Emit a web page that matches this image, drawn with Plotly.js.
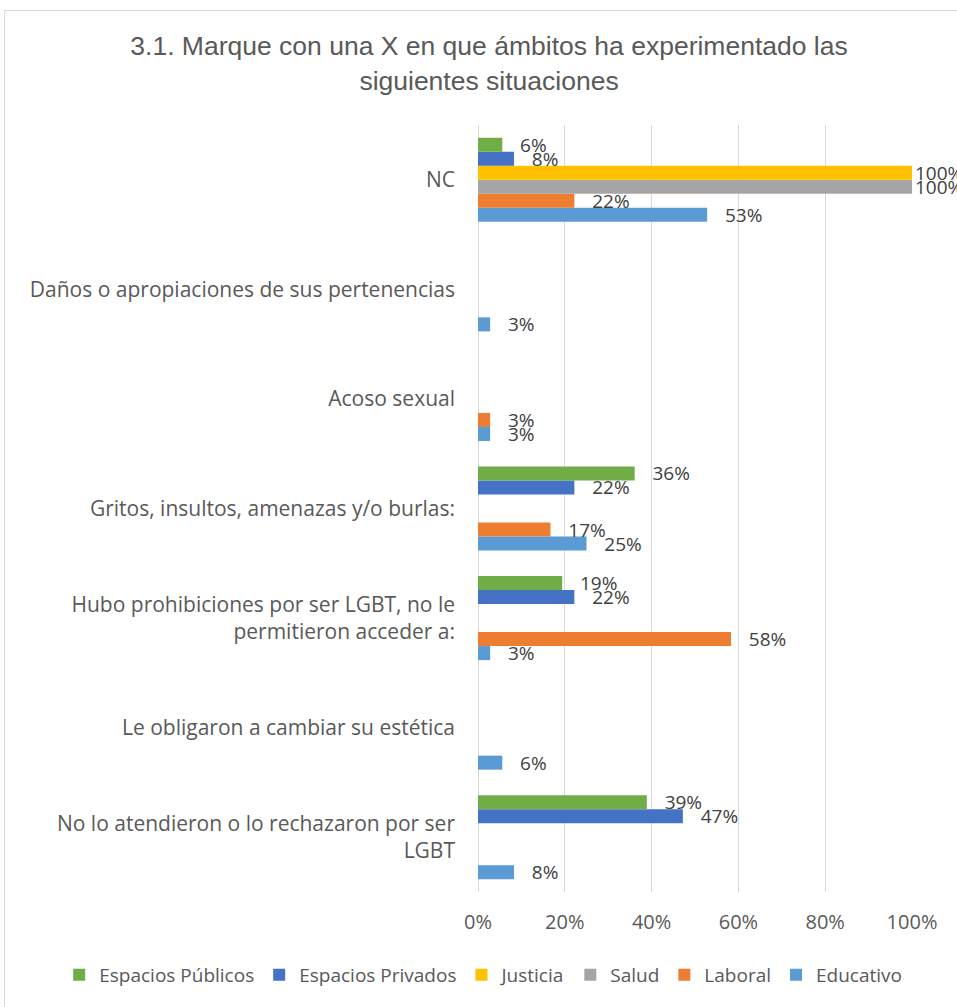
<!DOCTYPE html>
<html>
<head>
<meta charset="utf-8">
<script src="https://cdn.plot.ly/plotly-3.0.1.min.js"></script>
<style>
  html, body { margin: 0; padding: 0; background: #ffffff; }
  #frame { position: absolute; left: 4px; top: 10px; width: 1000px; height: 1050px; border: 1px solid #d9d9d9; box-sizing: border-box; }
  #chart { position: absolute; left: 0; top: 0; width: 957px; height: 1007px; }
</style>
</head>
<body>
<div id="frame"></div>
<div id="chart"></div>
<script>
// Categories listed bottom -> top (as in the source chart)
const categories = [
  "No lo atendieron o lo rechazaron por ser<br>LGBT",
  "Le obligaron a cambiar su estética",
  "Hubo prohibiciones por ser LGBT, no le<br>permitieron acceder a:",
  "Gritos, insultos, amenazas y/o burlas:",
  "Acoso sexual",
  "Daños o apropiaciones de sus pertenencias",
  "NC"
];

const educativo         = [0.083, 0.056, 0.028, 0.25, 0.028, 0.028, 0.528];
const laboral           = [null, null, 0.583, 0.167, 0.028, null, 0.222];
const salud             = [null, null, null, null, null, null, 1.0];
const justicia          = [null, null, null, null, null, null, 1.0];
const espaciosPrivados  = [0.472, null, 0.222, 0.222, null, null, 0.083];
const espaciosPublicos  = [0.389, null, 0.194, 0.361, null, null, 0.056];

const seriesNames  = ["Educativo", "Laboral", "Salud", "Justicia", "Espacios Privados", "Espacios Públicos"];
const seriesValues = [educativo, laboral, salud, justicia, espaciosPrivados, espaciosPublicos];
const seriesColors = ["#5B9BD5", "#ED7D31", "#A5A5A5", "#FFC000", "#4472C4", "#70AD47"];

const pad = "\u00a0\u00a0\u00a0";
function labels(vals) {
  return vals.map(v => v == null ? "" : (v >= 1 ? "" : pad) + Math.round(v * 100) + "%");
}

const labelFont = "Open Sans, Noto Sans, sans-serif";

const traces = seriesNames.map((name, i) => ({
  type: "bar",
  orientation: "h",
  name: name,
  y: categories,
  x: seriesValues[i],
  marker: { color: seriesColors[i] },
  text: labels(seriesValues[i]),
  textposition: "outside",
  constraintext: "none",
  textfont: { family: labelFont, size: 19, color: "#404040" },
  cliponaxis: false,
  hoverinfo: "skip"
}));

const layout = {
  width: 957,
  height: 1007,
  paper_bgcolor: "rgba(0,0,0,0)",
  plot_bgcolor: "rgba(0,0,0,0)",
  barmode: "group",
  bargap: 0.233,
  bargroupgap: 0,
  margin: { l: 478, r: 45, t: 125, b: 115 },
  title: {
    text: "3.1. Marque con una X en que ámbitos ha experimentado las<br>siguientes situaciones",
    font: { family: "Liberation Sans, Arial, sans-serif", size: 26.5, color: "#595959" },
    x: 0.511, xanchor: "center",
    y: 0.945, yanchor: "middle",
    xref: "container", yref: "container"
  },
  xaxis: {
    range: [0, 1],
    dtick: 0.2,
    tickformat: ".0%",
    showgrid: true,
    gridcolor: "#d9d9d9",
    gridwidth: 1,
    zeroline: true,
    zerolinecolor: "#d9d9d9",
    zerolinewidth: 1,
    showline: false,
    ticks: "",
    ticklabelstandoff: 16,
    tickfont: { family: labelFont, size: 20, color: "#595959" },
    fixedrange: true
  },
  yaxis: {
    type: "category",
    showgrid: false,
    zeroline: false,
    showline: false,
    ticks: "",
    ticklabelstandoff: 22,
    tickfont: { family: labelFont, size: 21, color: "#595959" },
    fixedrange: true
  },
  showlegend: true,
  legend: {
    orientation: "h",
    traceorder: "reversed",
    x: -0.965, xanchor: "left", xref: "paper",
    y: -0.108, yanchor: "middle", yref: "paper",
    font: { family: labelFont, size: 19, color: "#595959" },
    itemwidth: 30,
    itemclick: false,
    itemdoubleclick: false
  }
};

Plotly.newPlot("chart", traces, layout, { displayModeBar: false, staticPlot: true });
</script>
</body>
</html>
